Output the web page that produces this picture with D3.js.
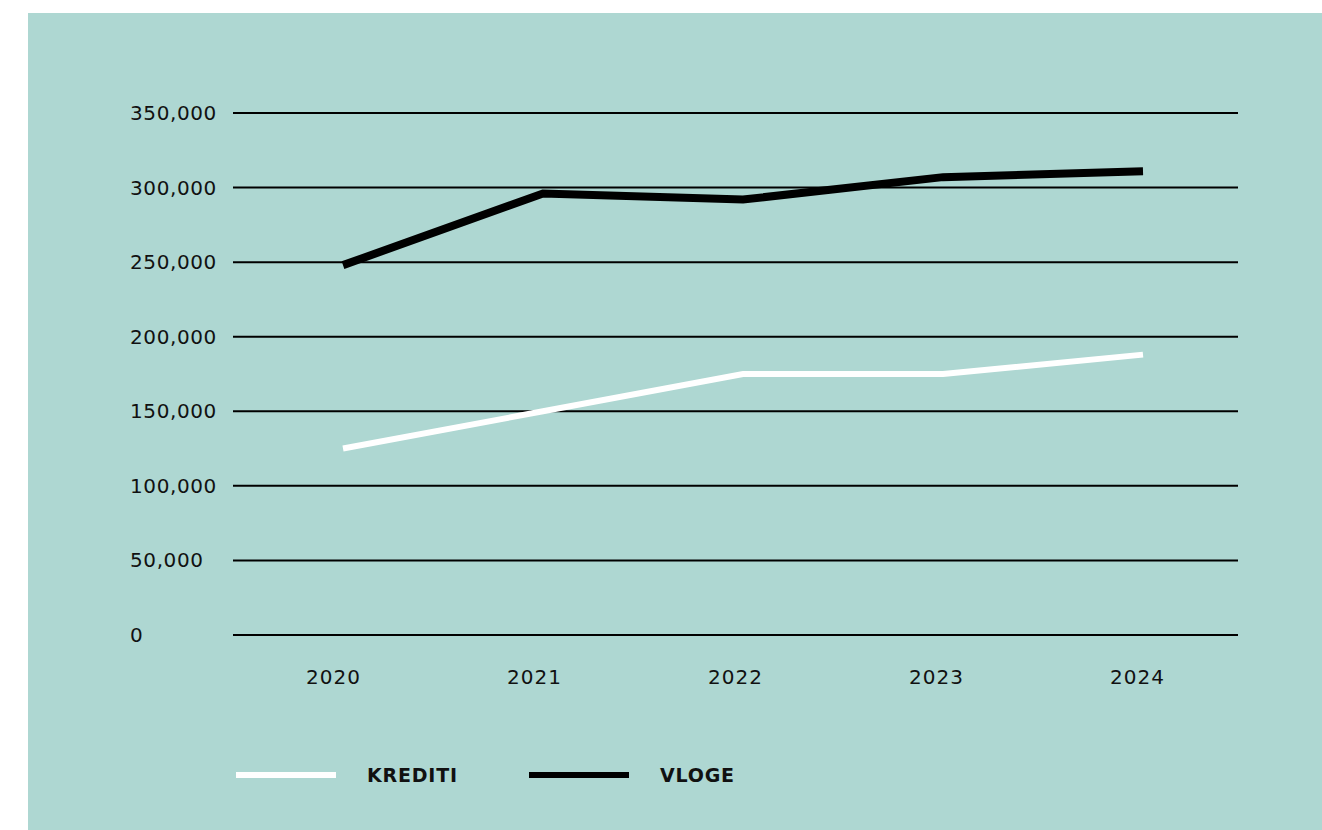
<!DOCTYPE html>
<html>
<head>
<meta charset="utf-8">
<script src="https://cdn.jsdelivr.net/npm/d3@7"></script>
<style>
  body { margin: 0; background: #fff; }
  svg { display: block; font-family: "DejaVu Sans", sans-serif; }
</style>
</head>
<body>
<div id="chart"></div>
<script>
var years = ["2020", "2021", "2022", "2023", "2024"];
var krediti = [125000, 150000, 175000, 175000, 188000];
var vloge = [248000, 296000, 292000, 307000, 311000];
var yTicks = [0, 50000, 100000, 150000, 200000, 250000, 300000, 350000];
var seriesNames = ["KREDITI", "VLOGE"];

var W = 1322, H = 830;
var plot = {left: 233, right: 1238, top: 113, bottom: 635};

var svg = d3.select("#chart").append("svg")
    .attr("width", W).attr("height", H);

// teal panel
svg.append("rect")
    .attr("x", 28).attr("y", 13)
    .attr("width", W - 28).attr("height", H - 13)
    .attr("fill", "#aed7d2");

var y = d3.scaleLinear().domain([0, 350000]).range([plot.bottom, plot.top]);
var xBand = d3.scaleBand().domain(years).range([plot.left, plot.right]);
var x = d3.scalePoint().domain(years).range([343, 1143]);

// grid lines + y labels
var fmt = d3.format(",");
var grid = svg.append("g");
grid.selectAll("line").data(yTicks).enter().append("line")
    .attr("x1", plot.left).attr("x2", plot.right)
    .attr("y1", function(d) { return y(d); })
    .attr("y2", function(d) { return y(d); })
    .attr("stroke", "#000").attr("stroke-width", 2);

grid.selectAll("text").data(yTicks).enter().append("text")
    .attr("x", 130)
    .attr("y", function(d) { return y(d); })
    .attr("dy", "0.35em")
    .attr("font-size", 20)
    .attr("letter-spacing", 0.6)
    .attr("fill", "#111")
    .text(function(d) { return fmt(d); });

// x labels
var xAxis = d3.axisBottom(xBand).tickSize(0).tickPadding(0);
var gx = svg.append("g")
    .attr("transform", "translate(0," + 677 + ")")
    .call(xAxis);
gx.select(".domain").remove();
gx.selectAll("text")
    .attr("dy", "0.35em")
    .attr("font-size", 20)
    .attr("letter-spacing", 1)
    .attr("font-family", "DejaVu Sans, sans-serif")
    .attr("fill", "#111");

var line = d3.line()
    .x(function(d, i) { return x(years[i]); })
    .y(function(d) { return y(d); });

svg.append("path")
    .attr("d", line(krediti))
    .attr("fill", "none")
    .attr("stroke", "#fff")
    .attr("stroke-width", 6)
    .attr("stroke-linejoin", "miter");

svg.append("path")
    .attr("d", line(vloge))
    .attr("fill", "none")
    .attr("stroke", "#000")
    .attr("stroke-width", 8)
    .attr("stroke-linejoin", "miter");

// legend
var legend = svg.append("g").attr("transform", "translate(0,775)");
var legColors = ["#fff", "#000"];
var legX = [236, 529];
seriesNames.forEach(function(name, i) {
  legend.append("line")
      .attr("x1", legX[i]).attr("x2", legX[i] + 100)
      .attr("y1", 0).attr("y2", 0)
      .attr("stroke", legColors[i]).attr("stroke-width", 6);
  legend.append("text")
      .attr("x", legX[i] + 131)
      .attr("y", 0)
      .attr("dy", "0.35em")
      .attr("font-size", 19)
      .attr("letter-spacing", 0.8)
      .attr("font-weight", "bold")
      .attr("fill", "#111")
      .text(name);
});
</script>
</body>
</html>
